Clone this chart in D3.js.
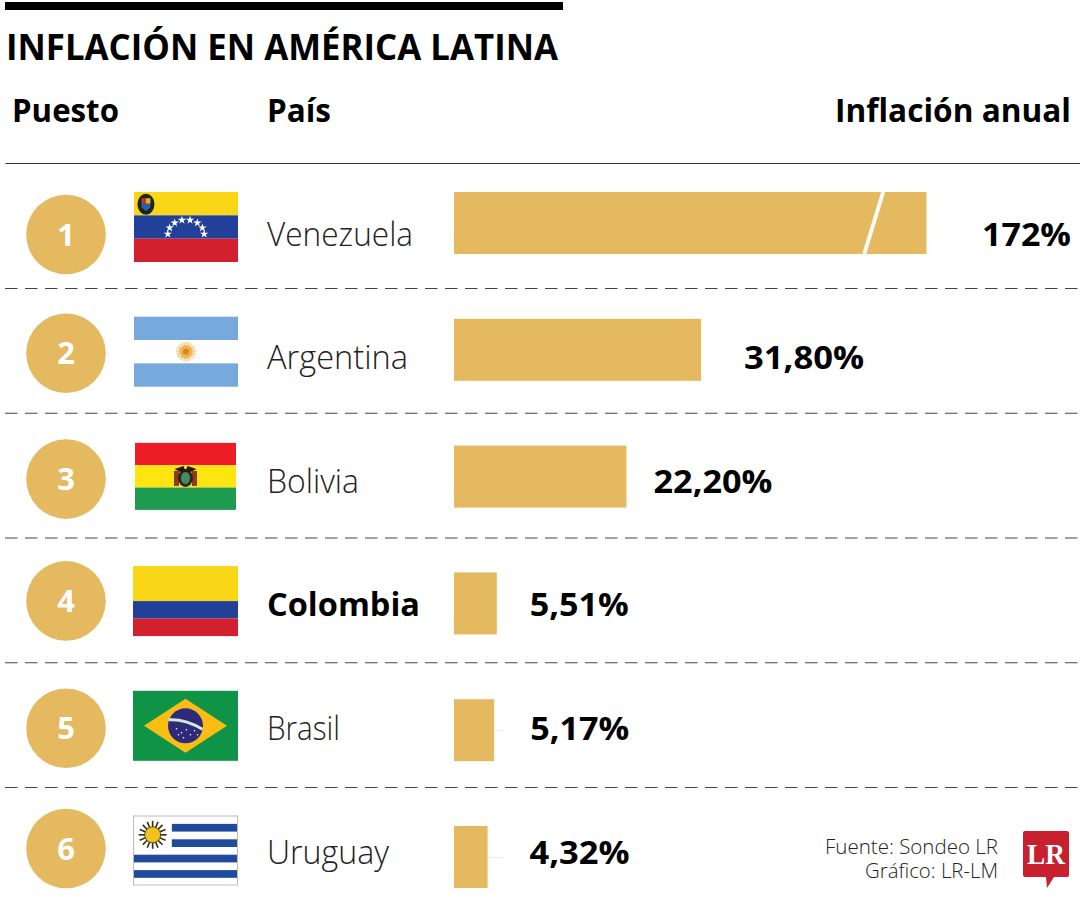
<!DOCTYPE html>
<html><head><meta charset="utf-8">
<script src="https://cdn.jsdelivr.net/npm/d3@7"></script>
<style>html,body{margin:0;background:#fff}svg{display:block}text{font-family:"Open Sans",sans-serif;fill:#000}</style>
</head><body><div id="c"></div>
<script>
// ---- data
const ranks = [1,2,3,4,5,6];
const countries = ["Venezuela","Argentina","Bolivia","Colombia","Brasil","Uruguay"];
const values = [172,31.8,22.2,5.51,5.17,4.32];
const valueLabels = ["172%","31,80%","22,20%","5,51%","5,17%","4,32%"];
const flagIds = ["ve","ar","bo","co","br","uy"];
const highlighted = ["Colombia"];
const headers = ["Puesto","País","Inflación anual"];
const title = "INFLACIÓN EN AMÉRICA LATINA";
const sourceLines = ["Fuente: Sondeo LR","Gráfico: LR-LM"];

// ---- layout
const W=1080,H=900, GOLD="#E5B95F", INK="#000";
const svg=d3.select("#c").append("svg").attr("width",W).attr("height",H).attr("viewBox",`0 0 ${W} ${H}`);
const idx=d3.range(countries.length);
const yBar=d3.scalePoint().domain(idx).range([223,857]);
const yText=d3.scalePoint().domain(idx).range([234,852]);
const yFlag=d3.scalePoint().domain(idx).range([227,850.5]);
const yCirc=d3.scalePoint().domain(idx).range([234.5,848.5]);
const circNudge=[0,-4,-1,-2,2.5,0];
const ySep=d3.scalePoint().domain(d3.range(5)).range([288.5,787.5]);
// broken axis: true scale up to the break, compressed after it
const x=d3.scaleLinear().domain([0,50,172]).range([454,842.5,926.5]);
const labelGap=[0,43,27,33,36,42];
const flagSize=[[104,70],[104,70],[101,67],[105,70],[105,70],[105,70]];
const flagDx=[186,186,185.5,185.5,185.5,185.5];

function fit(sel,w){sel.attr("textLength",w).attr("lengthAdjust","spacingAndGlyphs");return sel;}

// header
svg.append("rect").attr("x",5).attr("y",2).attr("width",558).attr("height",8).attr("fill",INK);
fit(svg.append("text").attr("x",6).attr("y",60).attr("font-size",36).attr("font-weight",700).text(title),552);
const hd=[[12,122,107],[267,122,64],[835,122,236]];
headers.forEach((t,i)=>fit(svg.append("text").attr("x",hd[i][0]).attr("y",hd[i][1]).attr("font-size",32).attr("font-weight",700).text(t),hd[i][2]));
svg.append("line").attr("x1",5.5).attr("x2",1080).attr("y1",163.5).attr("y2",163.5).attr("stroke","#333").attr("stroke-width",1);

// separators
svg.selectAll("line.sep").data(d3.range(5)).join("line").attr("class","sep")
  .attr("x1",5).attr("x2",1080).attr("y1",d=>ySep(d)).attr("y2",d=>ySep(d))
  .attr("stroke","#444").attr("stroke-width",1.2).attr("stroke-dasharray","12.5 7.5");

// rank circles
svg.selectAll("circle.rank").data(idx).join("circle").attr("class","rank")
  .attr("cx",66).attr("cy",d=>yCirc(d)+circNudge[d]).attr("r",39.8).attr("fill",GOLD);
svg.selectAll("text.rank").data(idx).join("text").attr("class","rank")
  .attr("x",66).attr("y",d=>yCirc(d)+circNudge[d]+11).attr("text-anchor","middle")
  .attr("font-size",31).attr("font-weight",700).style("fill","#fff").text(d=>ranks[d]);

// country names
const nameW=[146,141,92,153,73,122];
idx.forEach(i=>{
  const hl=highlighted.includes(countries[i]);
  fit(svg.append("text").attr("x",267).attr("y",yText(i)+11.5).attr("font-size",33)
    .attr("font-weight",hl?700:300).style("fill",hl?"#000":"#222").text(countries[i]),nameW[i]);
});

// bars
svg.selectAll("rect.bar").data(idx).join("rect").attr("class","bar")
  .attr("x",x(0)).attr("y",d=>yBar(d)-31).attr("height",62)
  .attr("width",d=>x(values[d])-x(0)).attr("fill",GOLD);
// faint leader ticks beside the two shortest labelled bars
[4,5].forEach(i=>svg.append("line").attr("x1",x(values[i])+1).attr("x2",503)
  .attr("y1",yBar(i)+.5).attr("y2",yBar(i)+.5).attr("stroke","#F5EAD0").attr("stroke-width",1));
// axis break mark on the longest bar
const brk=svg.append("g");
brk.append("line").attr("x1",x(50)+40.7).attr("y1",yBar(0)-31).attr("x2",x(50)+21.7).attr("y2",yBar(0)+31)
  .attr("stroke","#FFFDF6").attr("stroke-width",4);

// value labels
const valW=[89,120,119,99,99,100];
idx.forEach(i=>{
  const lx=i===0?982:x(values[i])+labelGap[i];
  fit(svg.append("text").attr("x",lx).attr("y",yText(i)+11.5).attr("font-size",32).attr("font-weight",700).text(valueLabels[i]),valW[i]);
});

// flags
function rays(g,cx,cy,r0,r1,n,col,sw){d3.range(n).forEach(k=>{const a=2*Math.PI*k/n;
  g.append("line").attr("x1",cx+Math.cos(a)*r0).attr("y1",cy+Math.sin(a)*r0)
   .attr("x2",cx+Math.cos(a)*r1).attr("y2",cy+Math.sin(a)*r1).attr("stroke",col).attr("stroke-width",sw);});}
function stripes(g,w,h,cols,fr){fr=fr||cols.map(()=>1/cols.length);let y=0;
  cols.forEach((c,i)=>{g.append("rect").attr("y",y*h).attr("width",w).attr("height",fr[i]*h).attr("fill",c);y+=fr[i];});}
const flagDraw={
 ve(g,w,h){stripes(g,w,h,["#F9D616","#21409A","#D2202F"]);
   d3.range(8).forEach(k=>{const a=Math.PI*(k/7),r=w*.175;
     g.append("path").attr("d",d3.symbol(d3.symbolStar,22)()).attr("fill","#fff")
      .attr("transform",`translate(${w/2+Math.cos(a)*r},${h*.6-Math.sin(a)*r*.78})`);});
   const cx=w*.115,cy=h*.175;
   g.append("ellipse").attr("cx",cx).attr("cy",cy).attr("rx",8.5).attr("ry",10.5).attr("fill","#1d2418");
   g.append("rect").attr("x",cx-4.5).attr("y",cy-6).attr("width",4.5).attr("height",5.5).attr("fill","#C0392B");
   g.append("rect").attr("x",cx).attr("y",cy-6).attr("width",4.5).attr("height",5.5).attr("fill","#E3B23C");
   g.append("path").attr("d",`M${cx-4.5},${cy-.5}H${cx+4.5}V${cy+3}L${cx},${cy+7}L${cx-4.5},${cy+3}Z`).attr("fill","#2F5FA8");
 },
 ar(g,w,h){stripes(g,w,h,["#76A9DC","#fff","#76A9DC"]);
   rays(g,w/2,h/2,4,10,28,"#F3C56B",1);
   g.append("circle").attr("cx",w/2).attr("cy",h/2).attr("r",6.5).attr("fill","#F2B44A");
   g.append("circle").attr("cx",w/2).attr("cy",h/2).attr("r",3).attr("fill","#D9822B");
 },
 bo(g,w,h){stripes(g,w,h,["#EE1C25","#FFE50F","#1E9B4F"]);
   const cx=w/2,cy=h/2+.5;
   g.append("rect").attr("x",cx-11.5).attr("y",cy-6).attr("width",5).attr("height",15).attr("fill","#8E3A22");
   g.append("rect").attr("x",cx+6.5).attr("y",cy-6).attr("width",5).attr("height",15).attr("fill","#8E3A22");
   g.append("ellipse").attr("cx",cx).attr("cy",cy+1).attr("rx",7.5).attr("ry",9).attr("fill","#3A2413");
   g.append("ellipse").attr("cx",cx).attr("cy",cy+1).attr("rx",4.5).attr("ry",6).attr("fill","#3E8E6A");
   g.append("path").attr("d",`M${cx-11},${cy-8}L${cx-2},${cy-11}L${cx},${cy-6}L${cx+2},${cy-11}L${cx+11},${cy-8}L${cx+5},${cy-5}H${cx-5}Z`).attr("fill","#1c1c14");
 },
 co(g,w,h){stripes(g,w,h,["#F9D616","#21409A","#D2202F"],[.5,.25,.25]);},
 br(g,w,h){g.append("rect").attr("width",w).attr("height",h).attr("fill","#0E9347");
   g.append("path").attr("d",`M${w*.105},${h/2}L${w/2},${h*.115}L${w*.895},${h/2}L${w/2},${h*.885}Z`).attr("fill","#FBBC14");
   g.append("circle").attr("cx",w/2).attr("cy",h/2).attr("r",17.5).attr("fill","#2D2A7B");
   g.append("path").attr("d",`M${w/2-17},${h/2-6}Q${w/2},${h/2-7} ${w/2+17},${h/2+3.5}`).attr("fill","none").attr("stroke","#CFEBD8").attr("stroke-width",3);
   [[-9,3],[-4,7],[1,4],[5,9],[9,5],[-2,12],[12,9],[-7,9]].forEach(([a,b])=>g.append("circle").attr("cx",w/2+a).attr("cy",h/2+b).attr("r",.8).attr("fill","#fff"));
 },
 uy(g,w,h){g.append("rect").attr("width",w).attr("height",h).attr("fill","#fff");
   [[.37,.12],[.37,.34],[0,.56],[0,.78]].forEach(([a,b])=>g.append("rect").attr("x",a*w).attr("y",b*h).attr("width",w*(1-a)).attr("height",h*.11).attr("fill","#1F4A9E"));
   const cx=w*.187,cy=h*.276;
   rays(g,cx,cy,6,14,16,"#3a2e10",1.6);
   g.append("circle").attr("cx",cx).attr("cy",cy).attr("r",8).attr("fill","#F1C31E").attr("stroke","#3a2e10").attr("stroke-width",.8);
   g.append("rect").attr("x",.5).attr("y",.5).attr("width",w-1).attr("height",h-1).attr("fill","none").attr("stroke","#bbb");
 }
};
idx.forEach(i=>{const [w,h]=flagSize[i];
  const g=svg.append("g").attr("transform",`translate(${flagDx[i]-w/2},${yFlag(i)-h/2})`);
  flagDraw[flagIds[i]](g,w,h);
});

// source
sourceLines.forEach((t,i)=>svg.append("text").attr("x",998).attr("y",[854,878][i]).attr("text-anchor","end")
  .attr("font-size",20).attr("font-weight",300).attr("textLength",[173,133][i]).attr("lengthAdjust","spacingAndGlyphs").style("fill","#222").text(t));

// logo
const lg=svg.append("g").attr("transform","translate(1023,831)");
lg.append("path").attr("d","M2,0H44a2,2 0 0 1 2,2V44a2,2 0 0 1 -2,2H31L24,57L23,46H2a2,2 0 0 1 -2,-2V2a2,2 0 0 1 2,-2Z").attr("fill","#C8202F");
lg.append("text").attr("x",23).attr("y",33).attr("text-anchor","middle").attr("font-size",30).attr("font-weight",700)
  .style("font-family","'Liberation Serif',serif").style("fill","#fff").attr("textLength",38).attr("lengthAdjust","spacingAndGlyphs").text("LR");
</script></body></html>
